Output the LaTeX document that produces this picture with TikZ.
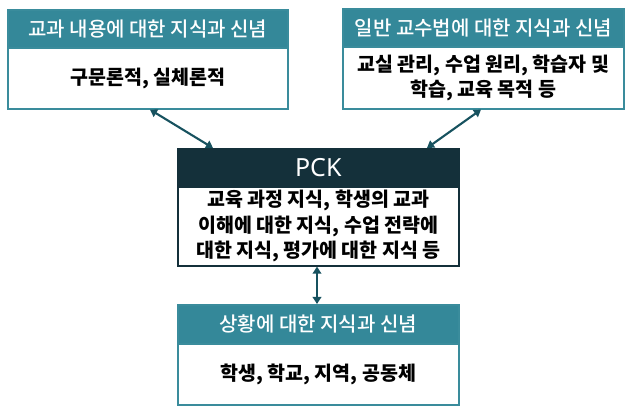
\documentclass[tikz,border=0pt]{standalone}
\usepackage{fontspec}
\setmainfont{Noto Sans CJK KR}
\newfontfamily\hdrfont{Noto Sans CJK KR}[UprightFont=* Medium]
\newfontfamily\latinsans{Noto Sans}
\usetikzlibrary{arrows.meta}
\definecolor{headteal}{HTML}{348899}
\definecolor{bordteal}{HTML}{3A8C9C}
\definecolor{pckdark}{HTML}{14303A}
\definecolor{arrowc}{HTML}{17525F}
\begin{document}
\begin{tikzpicture}[x=1pt,y=-1pt,
  hdr/.style={draw=bordteal,fill=headteal,line width=1.6pt,anchor=north west,inner sep=0pt,
    text=white,font=\hdrfont\fontsize{20}{22}\selectfont,align=center},
  bodybox/.style={draw=bordteal,fill=white,line width=1.6pt,anchor=north west,inner sep=0pt,
    text=black,font=\bfseries\fontsize{19.5}{25.5}\selectfont,align=center},
  pckhdr/.style={hdr,draw=pckdark,fill=pckdark,font=\latinsans\fontsize{25}{28}\selectfont},
  pckbody/.style={bodybox,draw=pckdark},
  conn/.style={draw=arrowc,line width=2.1pt,{Triangle[length=7pt,width=8.5pt]}-{Triangle[length=7pt,width=8.5pt]}}
]
\useasboundingbox (0,0) rectangle (630,411);
% box 1
\node[bodybox,minimum width=280pt,minimum height=61pt] (b1) at (7,47) {구문론적, 실체론적};
\node[hdr,minimum width=280pt,minimum height=38pt] (h1) at (7,9) {교과 내용에 대한 지식과 신념};
% box 2
\node[bodybox,minimum width=281pt,minimum height=62pt] (b2) at (342,46) {교실 관리, 수업 원리, 학습자 및\\학습, 교육 목적 등};
\node[hdr,minimum width=281pt,minimum height=38pt] (h2) at (342,8) {일반 교수법에 대한 지식과 신념};
% PCK
\node[pckbody,minimum width=281pt,minimum height=79pt] (b3) at (177,186) {교육 과정 지식, 학생의 교과\\이해에 대한 지식, 수업 전략에\\대한 지식, 평가에 대한 지식 등};
\node[pckhdr,minimum width=281pt,minimum height=38pt] (h3) at (177,148) {PCK};
% box 4
\node[bodybox,minimum width=281pt,minimum height=61pt] (b4) at (177,343) {학생, 학교, 지역, 공동체};
\node[hdr,minimum width=281pt,minimum height=39pt] (h4) at (177,304) {상황에 대한 지식과 신념};
% connectors
\coordinate (a1) at (150,110);
\coordinate (a1e) at (213,148);
\draw[conn] (b1.south -| a1) -- (h3.north -| a1e);
\coordinate (a2) at (481,108);
\coordinate (a2e) at (427,148);
\draw[conn] (b2.south -| a2) -- (h3.north -| a2e);
\draw[conn] (b3.south -| 317,0) -- (h4.north -| 317,0);
\end{tikzpicture}
\end{document}
